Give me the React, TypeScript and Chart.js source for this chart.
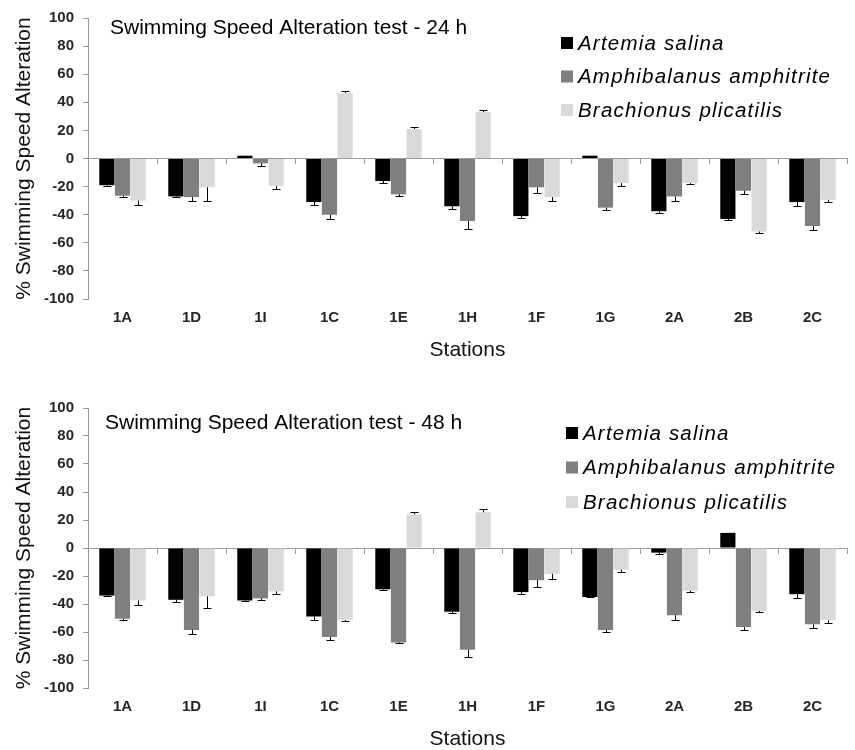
import React, { useEffect, useRef } from 'react';
import { Chart, registerables } from 'chart.js';

Chart.register(...registerables);

const FONT = '"Liberation Sans", Arial, Helvetica, sans-serif';

const stations = ['1A', '1D', '1I', '1C', '1E', '1H', '1F', '1G', '2A', '2B', '2C'];
const speciesNames = ['Artemia salina', 'Amphibalanus amphitrite', 'Brachionus plicatilis'];
const speciesColors = ['#000000', '#7f7f7f', '#d9d9d9'];

// 24 h test
const artemia24 = [-19, -27, 2, -31, -16, -34, -41, 2, -37.5, -43, -31];
const artemia24Err = [0.5, 0.5, 0, 2, 1.5, 2, 1.5, 0, 1.2, 1, 3];
const amphi24 = [-26.5, -27.5, -3.5, -40, -25.5, -44.5, -20.5, -35, -27, -23, -48];
const amphi24Err = [1, 3, 2, 3, 1.5, 5.5, 4, 1.7, 3.5, 2, 3];
const brach24 = [-30, -20.5, -19.5, 46.5, 21, 33, -27.5, -17.5, -17.5, -52, -29.5];
const brach24Err = [3, 9.5, 2, 1.5, 1.5, 1.3, 3, 1.8, 1, 1.3, 1.2];

// 48 h test
const artemia48 = [-34, -37, -37.5, -49, -29.5, -45.5, -31.5, -35, -3.3, 10.8, -33];
const artemia48Err = [0.4, 1.3, 0.3, 2.2, 0.8, 0.8, 1, 0.3, 1.2, 0, 2.4];
const amphi48 = [-50.5, -58.5, -36, -63.5, -67.5, -72.7, -23, -58.5, -48, -56.5, -54.5];
const amphi48Err = [1.2, 2.8, 0.8, 2, 0.3, 5.3, 4.5, 1.8, 3.3, 1.9, 2.6];
const brach48 = [-37.5, -34.5, -31, -51.5, 24, 25.5, -18.5, -15.5, -30.5, -45, -51.5];
const brach48Err = [3, 8.7, 2, 0.5, 1.7, 2.3, 3.7, 1.6, 0.7, 0.7, 2];

const yMin = -100;
const yMax = 100;
const yStep = 20;

const errorBarPlugin = {
  id: 'errorBars',
  afterDatasetsDraw(chart: any) {
    const ctx = chart.ctx;
    const yScale = chart.scales.y;
    ctx.save();
    ctx.strokeStyle = '#000';
    ctx.lineWidth = 1;
    chart.data.datasets.forEach((ds: any, i: number) => {
      const meta = chart.getDatasetMeta(i);
      meta.data.forEach((el: any, j: number) => {
        const v = ds.data[j];
        const e = ds.errors ? ds.errors[j] : 0;
        if (!e) return;
        const end = v + (v >= 0 ? e : -e);
        const yEnd = Math.round(yScale.getPixelForValue(end)) + 0.5;
        const x = Math.round(el.x) + 0.5;
        ctx.beginPath();
        ctx.moveTo(x, el.y);
        ctx.lineTo(x, yEnd);
        ctx.moveTo(x - 4, yEnd);
        ctx.lineTo(x + 4, yEnd);
        ctx.stroke();
      });
    });
    ctx.restore();
  },
};

const overlayPlugin = {
  id: 'overlay',
  afterDraw(chart: any, _args: any, opts: any) {
    const ctx = chart.ctx;
    ctx.save();
    ctx.fillStyle = '#000';
    ctx.font = `21px ${FONT}`;
    ctx.textBaseline = 'alphabetic';
    ctx.textAlign = 'left';
    ctx.fillText(opts.title, opts.titleX, opts.titleY);
    chart.data.datasets.forEach((ds: any, i: number) => {
      const cy = opts.legendY + i * opts.legendGap;
      ctx.fillStyle = ds.backgroundColor;
      ctx.fillRect(opts.legendX, cy - 6, 12, 12);
      ctx.fillStyle = '#000';
      ctx.font = `italic 20.5px ${FONT}`;
      (ctx as any).letterSpacing = '1.2px';
      ctx.textBaseline = 'middle';
      ctx.fillText(ds.label, opts.legendX + 17, cy + 1);
      (ctx as any).letterSpacing = '0px';
    });
    ctx.restore();
  },
};

type PanelProps = {
  height: number;
  plotBottom: number;
  stationsPad: number;
  title: string;
  titleX: number;
  titleY: number;
  legendX: number;
  legendY: number;
  legendGap: number;
  series: number[][];
  errors: number[][];
};

function BarPanel(p: PanelProps) {
  const ref = useRef<HTMLCanvasElement>(null);
  useEffect(() => {
    const chart = new Chart(ref.current as HTMLCanvasElement, {
      type: 'bar',
      data: {
        labels: stations,
        datasets: speciesNames.map((name, i) => ({
          label: name,
          data: p.series[i],
          errors: p.errors[i],
          backgroundColor: speciesColors[i],
          borderWidth: 0,
          barPercentage: 0.97,
          categoryPercentage: 0.68,
        })) as any,
      },
      options: {
        animation: false,
        responsive: false,
        devicePixelRatio: 1,
        layout: { padding: { top: 17, right: 8, left: 0, bottom: 0 } },
        plugins: {
          legend: { display: false },
          tooltip: { enabled: false },
          overlay: {
            title: p.title,
            titleX: p.titleX,
            titleY: p.titleY,
            legendX: p.legendX,
            legendY: p.legendY,
            legendGap: p.legendGap,
          },
        } as any,
        scales: {
          x: {
            type: 'category',
            offset: true,
            ticks: {
              font: { family: FONT, size: 15, weight: 'bold' },
              color: '#262626',
              padding: 10,
              maxRotation: 0,
              autoSkip: false,
            },
            grid: { display: false, drawTicks: false },
            border: { display: false },
            title: {
              display: true,
              text: 'Stations',
              color: '#111',
              font: { family: FONT, size: 21, lineHeight: 1 },
              padding: { top: 0, bottom: p.stationsPad },
            },
            afterFit: (s: any) => {
              s.height = p.height - p.plotBottom;
            },
          },
          x0: {
            type: 'category',
            axis: 'x',
            labels: stations,
            position: { y: 0 },
            offset: true,
            ticks: { display: false },
            grid: { drawOnChartArea: false, offset: true, tickLength: 5, color: '#9a9a9a' },
            border: { color: '#9a9a9a' },
          },
          y: {
            min: yMin,
            max: yMax,
            ticks: {
              stepSize: yStep,
              font: { family: FONT, size: 15, weight: 'bold' },
              color: '#262626',
              padding: 9,
            },
            grid: { drawOnChartArea: false, tickLength: 5, color: '#9a9a9a' },
            border: { color: '#9a9a9a' },
            title: {
              display: true,
              text: '% Swimming Speed Alteration',
              color: '#111',
              font: { family: FONT, size: 21, lineHeight: 1 },
              padding: { top: 14, bottom: 0 },
            },
            afterFit: (s: any) => {
              s.width = 88;
            },
          },
        } as any,
      },
      plugins: [errorBarPlugin, overlayPlugin],
    });
    return () => chart.destroy();
  }, []);
  return (
    <canvas
      ref={ref}
      width={855}
      height={p.height}
      style={{ display: 'block', width: 855, height: p.height }}
    />
  );
}

export default function App() {
  useEffect(() => {
    document.body.style.margin = '0';
  }, []);
  return (
    <div style={{ position: 'relative', width: 855, height: 750, background: '#fff' }}>
      <div style={{ position: 'absolute', left: 0, top: 0 }}>
        <BarPanel
          height={390}
          plotBottom={299}
          stationsPad={29}
          title="Swimming Speed Alteration test - 24 h"
          titleX={110}
          titleY={34}
          legendX={561}
          legendY={43}
          legendGap={33.5}
          series={[artemia24, amphi24, brach24]}
          errors={[artemia24Err, amphi24Err, brach24Err]}
        />
      </div>
      <div style={{ position: 'absolute', left: 0, top: 390 }}>
        <BarPanel
          height={360}
          plotBottom={298}
          stationsPad={0}
          title="Swimming Speed Alteration test - 48 h"
          titleX={105}
          titleY={39}
          legendX={566}
          legendY={43}
          legendGap={34.5}
          series={[artemia48, amphi48, brach48]}
          errors={[artemia48Err, amphi48Err, brach48Err]}
        />
      </div>
    </div>
  );
}
